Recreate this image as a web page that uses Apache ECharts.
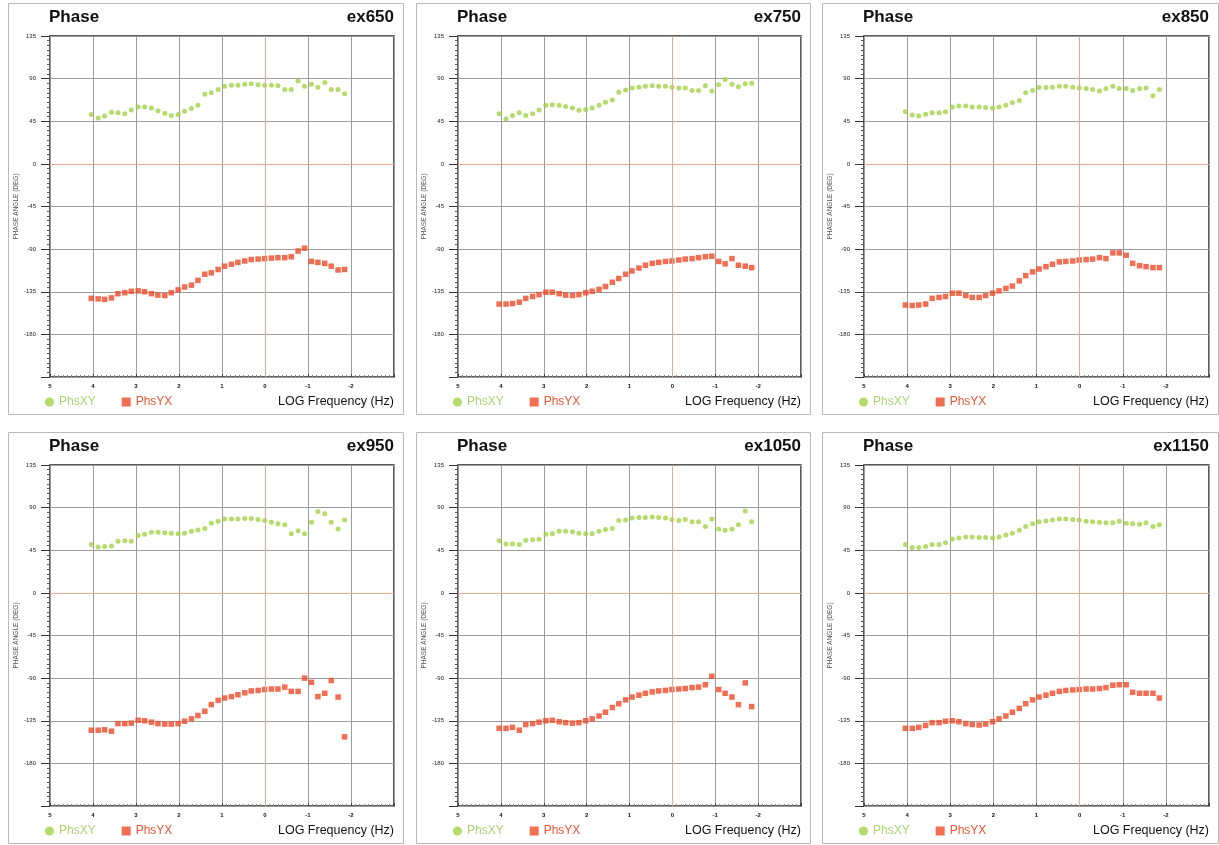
<!DOCTYPE html>
<html>
<head>
<meta charset="utf-8">
<script src="https://cdn.jsdelivr.net/npm/echarts@6.0.0/dist/echarts.min.js"></script>
<style>
  html, body { margin: 0; padding: 0; background: #ffffff; }
  #chart { width: 1219px; height: 845px; }
</style>
</head>
<body>
<div id="chart"></div>
<script>
// log10 of the sounding frequencies (Hz), shared by every station
const logFreq = [4.04, 3.88, 3.73, 3.57, 3.42, 3.26, 3.11, 2.95, 2.80, 2.64,
                 2.49, 2.33, 2.18, 2.02, 1.87, 1.71, 1.56, 1.40, 1.25, 1.09,
                 0.94, 0.78, 0.63, 0.47, 0.32, 0.16, 0.01, -0.15, -0.30, -0.46,
                 -0.61, -0.77, -0.92, -1.08, -1.23, -1.39, -1.54, -1.70, -1.85];

const stations = ['ex650', 'ex750', 'ex850', 'ex950', 'ex1050', 'ex1150'];

// phase (degrees) of the XY and YX impedance components, one pair per station
const phsXY_ex650 = [52, 48.5, 50.5, 54.5, 54, 53, 57, 60, 60, 59, 56, 53.5, 51, 52, 55.5, 58.5, 62, 73.5, 75, 78.5,
                     82, 83, 83, 84, 84.5, 83.5, 83, 83, 82.5, 78.5, 78.5, 87.5, 82, 84, 81, 86, 78.5, 78.5, 74];
const phsYX_ex650 = [-142, -142.5, -143, -141.5, -137, -136, -134.5, -134, -135, -137, -138.5, -139, -136, -133, -130, -128, -123, -116.5, -115, -111.5,
                     -108, -106, -104, -102.5, -101, -100.5, -100, -99.5, -99, -99, -98, -92, -89, -103, -104, -105, -108, -112, -111.5];

const phsXY_ex750 = [53, 47.5, 51, 54, 51, 53, 57, 62, 62.5, 62, 60.5, 59, 56.5, 57.5, 59, 62, 65, 67.5, 75.5, 78,
                     80, 81, 82, 82.5, 82, 82, 81, 80, 80, 77.5, 77.5, 82.5, 77, 83.5, 89, 84, 81.5, 84.5, 85];
const phsYX_ex750 = [-148, -148, -147.5, -146, -142, -140, -138, -135.5, -135.5, -137, -138.5, -139, -138, -136, -134.5, -132.5, -129.5, -125, -121, -116.5,
                     -113, -110, -107, -105, -104, -103, -102.5, -101.5, -100.5, -100, -99, -98, -97.5, -103, -105.5, -100, -107, -108, -109.5];

const phsXY_ex850 = [55, 51.5, 50.5, 52.5, 54, 54, 55, 60, 61, 61, 60, 60, 59.5, 59, 60, 62, 64.5, 67, 75, 77.5,
                     80.5, 80.5, 81, 82, 82, 81, 80, 79.5, 78.5, 77, 79.5, 82, 79.5, 79.5, 77.5, 79.5, 80, 72, 78.5];
const phsYX_ex850 = [-149, -149.5, -149, -148, -142, -141, -140, -136.5, -136.5, -139, -141, -141, -139, -136.5, -134, -131.5, -129, -123.5, -118, -114,
                     -111, -108.5, -106, -103.5, -103, -102.5, -101.5, -101, -100.5, -99, -100, -94, -94, -96.5, -105, -107.5, -108.5, -109.5, -109.5];

const phsXY_ex950 = [51, 48.5, 49, 49.5, 54.5, 55, 54.5, 60.5, 62, 64, 64, 63.5, 63, 62.5, 63, 65, 66.5, 68, 73.5, 75.5,
                     78, 78, 78, 78.5, 78.5, 77.5, 76.5, 74.5, 73, 72, 62.5, 65.5, 62.5, 74.5, 86, 83.5, 74.5, 67.5, 77];
const phsYX_ex950 = [-145, -145, -144.5, -146, -138, -138, -137.5, -134.5, -135, -136.5, -138, -138.5, -138.5, -138, -135.5, -133, -129.5, -125, -118, -113.5,
                     -111, -109.5, -107.5, -105.5, -103.5, -103, -102, -101.5, -101.5, -99.5, -104, -104, -90, -94.5, -109.5, -106, -92.5, -110, -152];

const phsXY_ex1050 = [55, 51.5, 51.5, 51, 55.5, 56, 56.5, 62, 62.5, 65, 65, 64.5, 63, 62.5, 62.5, 65, 67, 68, 76.5, 77,
                      79, 79.5, 79.5, 80, 79.5, 79, 77.5, 76.5, 77.5, 75, 75, 70, 78, 67.5, 66, 67.5, 72, 86.5, 75];
const phsYX_ex1050 = [-143, -143, -142, -145, -139, -138, -136.5, -135, -134.5, -136, -137, -137.5, -137, -135, -133, -130, -126, -121, -117, -113,
                      -110, -108, -106, -104.5, -103.5, -103, -102, -101.5, -101, -100, -99.5, -97, -88, -102, -106, -110, -118, -95, -120];

const phsXY_ex1150 = [51, 48, 48, 49, 51, 51, 53, 57, 58, 59, 59, 58.5, 58.5, 58, 59, 61, 63, 66, 70, 73,
                      75, 76, 77, 78, 78, 77.5, 77, 75.5, 75, 74.5, 74, 74, 75.5, 73.5, 73, 72.5, 74, 70, 72];
const phsYX_ex1150 = [-143, -143, -142, -140, -137, -137, -135.5, -135, -136, -138, -139, -139.5, -138.5, -136, -133, -130, -126, -122, -117, -113,
                      -110, -108, -106, -104, -103, -102.5, -102, -101.5, -101.5, -101, -100, -97.5, -97, -97, -105, -106, -106, -106, -111];

const phsXY = [phsXY_ex650, phsXY_ex750, phsXY_ex850, phsXY_ex950, phsXY_ex1050, phsXY_ex1150];
const phsYX = [phsYX_ex650, phsYX_ex750, phsYX_ex850, phsYX_ex950, phsYX_ex1050, phsYX_ex1150];

const FONT = 'Arial, "Liberation Sans", Helvetica, sans-serif';
const GREEN = '#a2d246';
const RED = '#ee4a28';
const GRID_GREY = '#9c9c9c';
const ZERO_LINE = '#eaa98a';

const W = 1219;
const colLeft = [50, 458, 864];
const colWidth = [344, 343, 345];
const rowTop = [36, 465];
const plotH = 341;

const grid = [], xAxis = [], yAxis = [], series = [], legend = [], title = [], graphic = [];

stations.forEach((site, i) => {
  const r = Math.floor(i / 3), c = i % 3;
  const left = colLeft[c], top = rowTop[r], w = colWidth[c];
  const rightGap = W - (left + w);

  // panel frame
  graphic.push({
    type: 'rect', silent: true, z: 0,
    shape: { x: left - 41.5, y: top - 32.5, width: w + 51, height: 411 },
    style: { fill: 'none', stroke: '#b8b8b8', lineWidth: 1 }
  });

  grid.push({
    left: left, top: top, width: w, height: plotH,
    show: true, borderColor: '#262626', borderWidth: 1.5, backgroundColor: 'transparent'
  });

  xAxis.push({
    type: 'value', gridIndex: i, min: -3, max: 5, interval: 1, inverse: true,
    position: 'bottom',
    axisLine: { show: false, onZero: false },
    axisTick: { show: true, inside: true, length: 3, lineStyle: { color: '#444' } },
    minorTick: { show: true, splitNumber: 10, length: 2, lineStyle: { color: '#888' } },
    axisLabel: { fontSize: 6, fontWeight: 'bold', color: '#111', margin: 6,
                 showMinLabel: false, showMaxLabel: true, fontFamily: FONT },
    splitLine: { show: true, lineStyle: { color: GRID_GREY, width: 1 } }
  });

  yAxis.push({
    type: 'value', gridIndex: i, min: -225, max: 135, interval: 45,
    position: 'left',
    name: 'PHASE ANGLE (DEG)', nameLocation: 'middle', nameRotate: 90, nameGap: 28,
    nameTextStyle: { fontSize: 6.5, color: '#555', fontFamily: FONT },
    axisLine: { show: false, onZero: false },
    axisTick: { show: true, length: 9, lineStyle: { color: '#333' } },
    minorTick: { show: true, splitNumber: 9, length: 3, lineStyle: { color: '#555' } },
    axisLabel: { fontSize: 6, color: '#222', margin: 14, showMinLabel: false, fontFamily: FONT },
    splitLine: { show: true, lineStyle: { color: GRID_GREY, width: 1 } }
  });

  series.push({
    type: 'scatter', name: 'PhsXY', xAxisIndex: i, yAxisIndex: i,
    symbol: 'circle', symbolSize: 5, itemStyle: { color: GREEN },
    data: logFreq.map((f, k) => [f, phsXY[i][k]]),
    markLine: {
      silent: true, symbol: 'none', animation: false,
      label: { show: false },
      lineStyle: { color: ZERO_LINE, width: 1, type: 'solid' },
      data: [{ xAxis: 0 }, { yAxis: 0 }]
    }
  });
  series.push({
    type: 'scatter', name: 'PhsYX', xAxisIndex: i, yAxisIndex: i,
    symbol: 'rect', symbolSize: 5.5, itemStyle: { color: RED },
    data: logFreq.map((f, k) => [f, phsYX[i][k]])
  });

  title.push({
    text: 'Phase', left: left - 1, top: top - 27, padding: 0,
    textStyle: { fontSize: 17, fontWeight: 'bold', color: '#111', fontFamily: FONT }
  });
  title.push({
    text: site, right: rightGap, top: top - 27, padding: 0,
    textStyle: { fontSize: 17, fontWeight: 'bold', color: '#111', fontFamily: FONT }
  });
  title.push({
    text: 'LOG Frequency (Hz)', right: rightGap, top: top + 359, padding: 0,
    textStyle: { fontSize: 12.5, fontWeight: 'normal', color: '#111', fontFamily: FONT }
  });

  legend.push({
    left: left - 5, top: top + 360, padding: 0, itemGap: 26,
    itemWidth: 9, itemHeight: 9, selectedMode: false,
    textStyle: { fontSize: 12, fontFamily: FONT },
    data: [
      { name: 'PhsXY', icon: 'circle', textStyle: { color: '#a9d672' } },
      { name: 'PhsYX', icon: 'rect', textStyle: { color: '#ee5536' } }
    ]
  });
});

const chart = echarts.init(document.getElementById('chart'), null, { renderer: 'canvas' });
chart.setOption({
  animation: false,
  backgroundColor: '#ffffff',
  title, legend, grid, xAxis, yAxis, series, graphic
});
</script>
</body>
</html>
